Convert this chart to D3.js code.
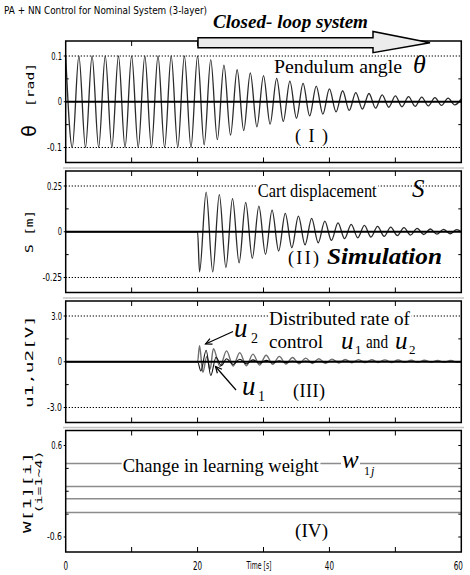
<!DOCTYPE html>
<html>
<head>
<meta charset="utf-8">
<script src="https://cdn.jsdelivr.net/npm/d3@7"></script>
<style>
  body { margin: 0; background: #fff; }
  svg { display: block; }
</style>
</head>
<body>
<script>
// values (time in s)
const thetaT = [0,1,2,3,4,5,6,7,8,9,10,11,12,13,14,15,16,17,18,19,20,21,22,23,24,25,26,27,28,29,30,
  31,32,33,34,35,36,37,38,39,40,41,42,43,44,45,46,47,48,49,50,51,52,53,54,55,56,57,58,59,60];
const thetaV = [0.1,-0.1,0.1,-0.1,0.1,-0.1,0.1,-0.1,0.1,-0.1,0.1,-0.1,0.1,-0.1,0.1,-0.1,0.1,-0.1,0.1,-0.1,0.1,
  -0.094,0.092,-0.083,0.08,-0.073,0.07,-0.063,0.063,-0.055,0.057,-0.049,0.051,-0.043,0.045,-0.036,0.04,-0.031,0.034,-0.027,0.028,
  -0.022,0.024,-0.019,0.02,-0.016,0.018,-0.014,0.015,-0.012,0.013,-0.011,0.011,-0.01,0.01,-0.009,0.009,-0.008,0.008,-0.007,0.006];

const sT = [0,20,20.3,21.3,22.3,23.3,24.3,25.3,26.3,27.3,28.3,29.3,30.3,31.3,32.3,33.3,34.3,35.3,36.3,37.3,38.3,39.3,
  40.3,41.3,42.3,43.3,44.3,45.3,46.3,47.3,48.3,49.3,50.3,51.3,52.3,53.3,54.3,55.3,56.3,57.3,58.3,59.3,60];
const sV = [0,0,-0.219,0.217,-0.219,0.203,-0.196,0.181,-0.17,0.161,-0.145,0.14,-0.123,0.118,-0.105,0.1,-0.087,0.085,-0.072,0.073,-0.06,0.058,
  -0.047,0.049,-0.038,0.04,-0.033,0.035,-0.029,0.029,-0.025,0.025,-0.021,0.022,-0.018,0.018,-0.015,0.015,-0.013,0.013,-0.011,0.012,0];

const u2T = [0,20,20.3,20.8,21.4,21.9,22.4,23.4,24.4,25.4,26.4,27.4,28.4,29.4,30.4,31.4,32.4,33.4,34.4,35.4,36.4,37.4,38.4,39.4,
  40.4,41.4,42.4,43.4,44.4,45.4,46.4,47.4,48.4,49.4,50.4,51.4,52.4,53.4,54.4,55.4,56.4,57.4,58.4,59.4,60];
const u2V = [0,0,1.05,-0.7,0.35,-0.5,0.85,-0.32,0.71,-0.28,0.6,-0.26,0.5,-0.22,0.43,-0.17,0.35,-0.15,0.28,-0.13,0.24,-0.11,0.2,-0.1,
  0.17,-0.08,0.15,-0.07,0.14,-0.06,0.13,-0.05,0.12,-0.05,0.11,-0.04,0.1,-0.04,0.1,-0.03,0.09,-0.03,0.09,-0.03,0.03];

const u1T = [0,20,20.5,21.3,22,22.8,23.6,24.4,25.4,26.4,27.4,28.4,29.4,30.4,31.4,32.4,33.4,34.4,35.4,36.4,37.4,38.4,39.4,40.4,60];
const u1V = [0,0,-0.6,0.75,-0.9,0.3,-0.25,0.2,-0.18,0.16,-0.14,0.12,-0.1,0.09,-0.08,0.07,-0.06,0.05,-0.05,0.04,-0.04,0.03,-0.03,0.03,0];

const wT = [0, 60];
const wLevels = [0.364, 0.063, -0.098, -0.278];

const refValues = [0.1, 0.25, 3.0, 0.6];
const yTickLabels = [["0.1", "0", "-0.1"], ["0.25", "0", "-0.25"], ["3.0", "0", "-3.0"], ["0.6", "-0.6"]];
const xLabelTicks = [0, 20, 40, 60];
const xMinorTicks = [10, 20, 30, 40, 50];

const width = 470, height = 575;
const serif = "'Liberation Serif', 'Times New Roman', serif";
const mono = "'DejaVu Sans Mono', 'Liberation Mono', monospace";
const narrow = "'DejaVu Sans', sans-serif";

const svg = d3.select("body").append("svg")
  .attr("width", width)
  .attr("height", height)
  .attr("viewBox", [0, 0, width, height]);

svg.append("rect").attr("width", width).attr("height", height).attr("fill", "#fff");

const x = d3.scaleLinear().domain([0, 60]).range([65.7, 461.3]);
const panelTop = [41, 171, 301, 430.5];
const panelH = 121.5;

// ref lines sit at ~75% of the half height
const ys = refValues.map((r, i) => d3.scaleLinear()
  .domain([-r / 0.753, r / 0.753])
  .range([panelTop[i] + panelH, panelTop[i]]));

const line = (y) => d3.line().x(d => x(d[0])).y(d => y(d[1])).curve(d3.curveMonotoneX);
const pairs = (ts, vs) => ts.map((t, i) => [t, vs[i]]);

// narrow pixel-ish text, squeezed to the width seen in the reference
function narrowText(g, px, py, str, size, len, anchor) {
  const t = g.append("text")
    .attr("x", px).attr("y", py)
    .attr("font-family", narrow)
    .attr("font-size", size)
    .attr("text-anchor", anchor || "start")
    .text(str);
  if (len) t.attr("textLength", len).attr("lengthAdjust", "spacingAndGlyphs");
  return t;
}

refValues.forEach((r, i) => {
  const y = ys[i];
  const g = svg.append("g");
  const top = panelTop[i], bot = top + panelH;

  if (i > 0) {
    g.append("line")
      .attr("x1", 63).attr("x2", 464)
      .attr("y1", top - 3).attr("y2", top - 3)
      .attr("stroke", "#c4c4c4").attr("stroke-width", 1.5);
  }

  if (i < 3) {
    // dotted reference lines
    g.selectAll(".ref").data([r, -r]).join("line")
      .attr("x1", x(0)).attr("x2", x(60))
      .attr("y1", d => y(d)).attr("y2", d => y(d))
      .attr("stroke", "#000").attr("stroke-width", 1)
      .attr("stroke-dasharray", "1.3,1.7");
  }

  // ticks: top / bottom
  xMinorTicks.forEach(t => {
    g.append("line").attr("x1", x(t)).attr("x2", x(t)).attr("y1", top).attr("y2", top + 5).attr("stroke", "#000");
    g.append("line").attr("x1", x(t)).attr("x2", x(t)).attr("y1", bot).attr("y2", bot - 5).attr("stroke", "#000");
  });
  // ticks: left / right
  const sideTicks = i === 3 ? [r / 2, 0, -r / 2] : [r / 2, -r / 2];
  sideTicks.forEach(v => {
    g.append("line").attr("x1", x(0)).attr("x2", x(0) + 3).attr("y1", y(v)).attr("y2", y(v)).attr("stroke", "#000");
    g.append("line").attr("x1", x(60)).attr("x2", x(60) - 3).attr("y1", y(v)).attr("y2", y(v)).attr("stroke", "#000");
  });
  if (i === 3) {
    [r, -r].forEach(v => {
      g.append("line").attr("x1", x(60)).attr("x2", x(60) - 3).attr("y1", y(v)).attr("y2", y(v)).attr("stroke", "#000");
    });
  }

  // y tick labels
  const vals = i === 3 ? [r, -r] : [r, 0, -r];
  vals.forEach((v, k) => {
    const s = yTickLabels[i][k];
    const len = s.replace(/[.]/g, "").length * 4.3 + (s.includes(".") ? 2.2 : 0);
    narrowText(g, 62, y(v) + 3.5, s, 10, len, "end");
    g.append("line").attr("x1", x(0) - 2).attr("x2", x(0)).attr("y1", y(v)).attr("y2", y(v)).attr("stroke", "#000");
  });
});

// curves
const curveStyle = (p) => p.attr("fill", "none").attr("stroke-linejoin", "round");

curveStyle(svg.append("path").datum(pairs(thetaT, thetaV)).attr("d", line(ys[0])))
  .attr("stroke", "#2a2a2a").attr("stroke-width", 1.3);
curveStyle(svg.append("path").datum(pairs(sT, sV)).attr("d", line(ys[1])))
  .attr("stroke", "#2a2a2a").attr("stroke-width", 1.3);
curveStyle(svg.append("path").datum(pairs(u2T, u2V)).attr("d", line(ys[2])))
  .attr("stroke", "#6e6e6e").attr("stroke-width", 1.4);
curveStyle(svg.append("path").datum(pairs(u1T, u1V)).attr("d", line(ys[2])))
  .attr("stroke", "#111").attr("stroke-width", 1.1);

svg.append("g").selectAll("path").data(wLevels).join("path")
  .attr("d", v => line(ys[3])(wT.map(t => [t, v])))
  .attr("fill", "none").attr("stroke", "#8c8c8c").attr("stroke-width", 1.6);

// thick zero lines
[0, 1, 2].forEach(i => {
  svg.append("line")
    .attr("x1", x(0)).attr("x2", x(60))
    .attr("y1", ys[i](0)).attr("y2", ys[i](0))
    .attr("stroke", "#000").attr("stroke-width", 2);
});

// frames
panelTop.forEach(top => {
  svg.append("rect")
    .attr("x", x(0)).attr("y", top)
    .attr("width", x(60) - x(0)).attr("height", panelH)
    .attr("fill", "none").attr("stroke", "#000").attr("stroke-width", 1.5);
});

// x axis labels
xLabelTicks.forEach(t => {
  const s = String(t);
  narrowText(svg, t === 60 ? x(t) - 3 : x(t), 569.5, s, 13, s.length * 4.6, "middle");
});
narrowText(svg, 259, 569, "Time [s]", 10, 25, "middle");

// title
narrowText(svg, 4, 14, "PA + NN Control for Nominal System (3-layer)", 10, 203);

// y axis titles (rotated)
function vText(px, py, str, size, len, fam) {
  const t = svg.append("text")
    .attr("transform", `translate(${px},${py}) rotate(-90)`)
    .attr("text-anchor", "middle")
    .attr("font-family", fam || mono)
    .attr("font-size", size)
    .text(str);
  if (len) t.attr("textLength", len).attr("lengthAdjust", "spacingAndGlyphs");
  return t;
}
vText(34, 85, "[rad]", 11, 44);
vText(36, 131, "θ", 19, null, "'DejaVu Sans', sans-serif");
vText(33, 231.5, "S [m]", 11, 43);
vText(33, 361.5, "u1,u2[V]", 11, 93);
vText(31, 492.5, "W[1][i]", 10, 81);
vText(42, 482, "(i=1~4)", 9, 63);

// closed-loop arrow
svg.append("path")
  .attr("d", "M198,37.7 L373,37.7 L373,31.5 L430,42.7 L373,52.7 L373,47.7 L198,47.7 Z")
  .attr("fill", "#ececec").attr("stroke", "#000").attr("stroke-width", 1.5);
svg.append("text")
  .attr("x", 213).attr("y", 28)
  .attr("font-family", serif).attr("font-size", 19)
  .attr("font-weight", "bold").attr("font-style", "italic")
  .attr("textLength", 155).attr("lengthAdjust", "spacingAndGlyphs")
  .text("Closed- loop system");

// annotations
function label(px, py, str, size, len, opts) {
  opts = opts || {};
  const g = svg.append("g");
  const bg = g.append("rect").attr("fill", "#fff");
  const t = g.append("text")
    .attr("x", px).attr("y", py)
    .attr("font-family", serif).attr("font-size", size)
    .attr("font-style", opts.italic ? "italic" : "normal")
    .attr("font-weight", opts.bold ? "bold" : "normal")
    .text(str);
  if (len) t.attr("textLength", len).attr("lengthAdjust", opts.spacing ? "spacing" : "spacingAndGlyphs");
  if (opts.bg) {
    const b = t.node().getBBox();
    bg.attr("x", b.x - 1).attr("y", b.y + 2).attr("width", b.width + 2).attr("height", b.height - 5);
  } else {
    bg.remove();
  }
  return t;
}

label(274, 73, "Pendulum angle", 19, 128);
label(413, 73, "θ", 26, null, { italic: true });
label(295, 141.5, "(I)", 18, 33, { spacing: true });

label(257.7, 197, "Cart displacement", 19, 119, { bg: true });
label(412, 197, "S", 25, null, { italic: true });
label(288, 264, "(II)", 18, 31, { spacing: true });
label(327, 264, "Simulation", 24, 115, { italic: true, bold: true });

label(269, 325, "Distributed rate of", 19, 141, { bg: true });
label(269, 348, "control", 19, 54);
label(341, 349, "u", 25, null, { italic: true });
label(355, 354, "1", 13);
label(366, 348, "and", 19, 22);
label(395, 349, "u", 25, null, { italic: true });
label(409, 354, "2", 13);
label(293, 397, "(III)", 18, 32, { spacing: true });

label(234, 337, "u", 27, null, { italic: true });
label(251, 343, "2", 14);
label(242, 395, "u", 27, null, { italic: true });
label(258, 401, "1", 14);

label(122.7, 471.7, "Change in learning weight", 19, 196, { bg: true });
label(342, 468, "w", 25, null, { italic: true, bg: true });
label(364, 475, "1", 12);
label(371, 475, "j", 12, null, { italic: true });
label(295, 536.7, "(IV)", 19, 33, { spacing: true });

// pointer arrows for u1, u2
function pointer(x1, y1, x2, y2) {
  const a = Math.atan2(y2 - y1, x2 - x1);
  const head = 7, spread = 0.45;
  const g = svg.append("g").attr("stroke", "#000").attr("stroke-width", 1.2).attr("fill", "none");
  g.append("line").attr("x1", x1).attr("y1", y1).attr("x2", x2).attr("y2", y2);
  g.append("path").attr("d",
    `M${x2 - head * Math.cos(a - spread)},${y2 - head * Math.sin(a - spread)} L${x2},${y2} ` +
    `L${x2 - head * Math.cos(a + spread)},${y2 - head * Math.sin(a + spread)}`);
}
pointer(233, 331.5, 205.5, 344);
pointer(236, 390, 215.5, 366.5);
</script>
</body>
</html>
